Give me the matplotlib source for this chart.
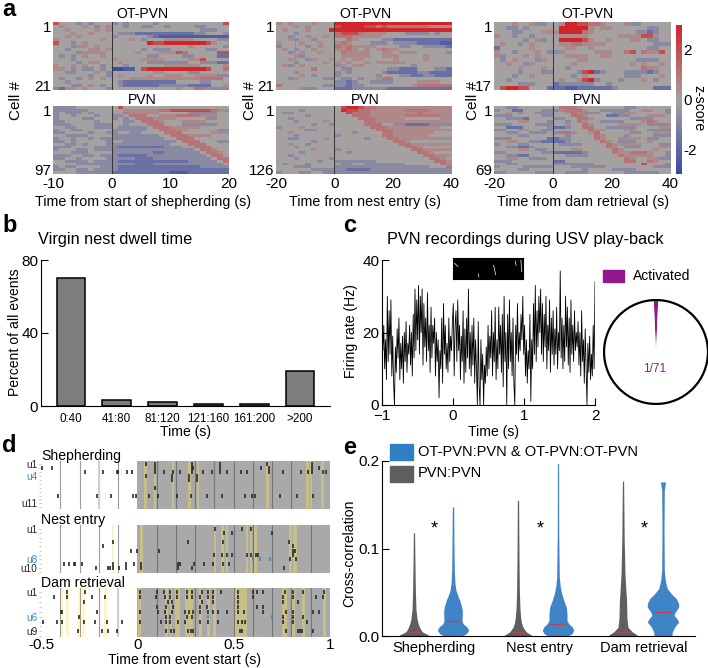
import numpy as np
import matplotlib
matplotlib.use("Agg")
import matplotlib.pyplot as plt
from matplotlib.colors import LinearSegmentedColormap
from matplotlib.patches import Rectangle

plt.rcParams['font.family'] = ['Liberation Sans', 'DejaVu Sans']

W, H = 708, 668

# ---- panel a: z-score maps, one digit per cell (see DIGIT_Z)
DIGIT_Z = [-3, -2.4, -1.7, -0.8, 0, 0.6, 1.1, 2, 3]
OT_SHEPHERD = [
"744434344434344443444444444447","454445434544344334434444334444","445444454544444444444444433344",
"444544544443332222222222334443","445454444434444432111111111111","544444445444454344455555444433",
"744345444444444487788888887544","444355454444444444444445444443","443444554544444343334444443344",
"444435555444445444555764444477","434345445444444433444433444422","444344444454444555544445574444",
"444434554445444433333334433322","544545443444344444455555544445","554343343400114788888888887446",
"443344454344444445544443344444","444444344345444454455544555533","434434545444455555555555566664",
"443444444443222222222444433444","444334543443222222333332222445","325545444344444444444544665333"]
OT_NEST = [
"545444544488888888888888888888","444545444478888776766666665555","454445444888888888888888888888",
"444344444467776555544433334344","443445445466655555444444444444","445344344444654444332222222222",
"544454454456544433343333222211","344443454465655554444334433332","454344544455654545655444444444",
"443454454446555544554555444443","444534444445555544555444454444","445443544545455444445444454444",
"444344445454544545555544444444","453454444435455444444443444444","444444644443344444433222444332",
"444344444434344444322222332222","444454344434444443444332233222","443544443343343445664444444444",
"444444444433234433334444555544","644444443333233444444445666666","444453344422233333322222222222"]
OT_DAM = [
"444544533445887766544453344444","443343444448888854554444443344","444334445558888654444444332344",
"544344344445555544444555577544","444443453448888754454445543344","454434544445566555544444444333",
"244444544444554454444444443344","544344454335444445554467465574","534445454444555544554444444444",
"434544435444445544444444333344","445443544444454444444445454454","444454445444344444444444465544",
"444434443344443782344433332344","444344544444434544444433344454","443444444445445783444344454344",
"444433344423333334434444444444","478877444222112222223444444222"]
PVN_SHEPHERD = [
"333344444447444444444444444444","333333444444555555667777777655","343334344444655555444443333344",
"344344434433466644555666655544","344443344434346665555444443344","334444434444334666544455554444",
"333444433344344466644433333344","443344433343333346665555544444","344334444433333344666554444433",
"334444344334433444466644444555","443333444433333333446665555444","344344343333333333344666444444",
"334344444344333333333466644433","443343444333333333334446664444","333444433332222222233344666444",
"344433433333333333333333466544","444333444433333332233333346654","333443343332222233333333334664",
"334434444333332223333333333466","443333433332222222222223333346","444433333333332223333333333334",
"343344443332222222222222233333","334433433332222222222222222222","444433333322222222221112222222"]
PVN_NEST = [
"444444444447887665555555555555","444434444448776655555566665555","433444444444766655555555655555",
"444443444444466655555566666655","443444444444446665555544444455","444344445444444665555555555555",
"444444344344444666443322223333","344454444444444466655555555544","444443344444444446665555555555",
"445444444444434444665555555444","444344444434444444665555554444","443344445444444344466555555555",
"444444344444444444446654444444","445443444444444444444665555555","444344444444444444444466544444",
"444444544434444444444446655555","444434444444344444444444665444","443444444444444444444444466555",
"444344444344444444444444446654","444444434433333334444444444665","434443444443344333333344444465",
"444333444433333333333333334446","444444333333222233333333333333","344433443333333333333333333333"]
PVN_DAM = [
"443344444446665444444433444444","344224443335666544333334455443","445434433344565333443355444443",
"333444443344466544422334445554","443332444433446654444443333444","444455444344346544333344456544",
"333444433344544654444555543333","442224444322344664433333444455","334455443344444465544455443333",
"443344333436654456444443344555","444433444444344446544434444333","333444444223344446544555543344",
"445544332222344444654333445444","344433444443333444465555544433","443322344444444444465433344455",
"444455433444455444446544444544","334444443322222344446556665443","443322444444333344444655555443",
"445544333444444444444465445533","333444444422444444444466446544","443344444433333334444444474443",
"344443333344433333344444444333","444433444444444344443333444444","334444433344333344444433333344"]
CBAR_TICKS = [2, 0, -2]

# ---- panel b
BIN_LABELS = ["0:40", "41:80", "81:120", "121:160", "161:200", ">200"]
BIN_PERCENT = [69.9, 3.1, 2.2, 0.9, 0.9, 19.4]

# ---- panel c
FIRING_RATE = [
24,15,22,10,18,7,30,12,26,14,29,8,19,6,0,16,9,21,13,24,
7,17,10,19,6,20,12,23,9,17,14,22,11,20,8,25,13,32,15,29,
18,33,14,30,20,32,11,28,16,24,12,31,15,22,9,27,13,22,17,24,
8,20,12,18,2,15,10,24,6,28,14,22,10,17,9,24,12,19,15,23,
28,8,22,26,12,29,15,22,7,19,12,26,6,21,9,24,13,32,10,20,
8,22,11,24,6,18,10,0,23,5,0,18,7,14,0,11,6,16,8,22,
10,19,13,26,8,20,12,27,7,18,10,27,14,22,9,25,5,30,12,20,
0,25,10,29,12,20,8,24,6,0,22,14,28,12,20,15,25,18,30,14,
22,8,18,6,15,10,25,1,18,10,28,14,33,12,26,16,30,20,32,14,
28,12,25,16,30,10,22,15,29,9,24,14,26,11,21,14,27,10,20,15,
37,13,24,10,22,12,30,16,27,11,24,9,29,14,22,12,26,15,20,16,
23,11,20,8,26,12,18,6,21,10,0,17,9,19,7,14,8,22,10,34]
ACTIVATED = [1, 70]

# ---- panel d: spike times (s) by unit row
SPIKES_SHEPHERD = {
1:[.043,.092,.282,.429,.671,.905],
2:[-.497,-.445,.092,.282,.287,.429,.640,.685,.905,.945],
3:[-.272,-.180,-.107,-.102,-.052,-.026,.092,.138,.187,.221,.282,.343,.386,.429,.464,.536,.567,.685,.754,.848,.888,.905,.962,.979],
4:[.045,.180,.270,.311],
5:[.180,.270,.311],
7:[.092],
9:[-.410,-.208,-.137,-.024,-.007,.061,.106,.208,.279,.360,.441,.559,.597,.611,.740,.830,.910]}
SPIKES_NEST = {
1:[.403,.545,.588],
2:[.450,.493,.697],
4:[-.128,.265,.443,.789],
5:[-.180,.810],
6:[-.033,-.003,.114,.810,.818],
7:[.400,.441,.464,.490,.571,.588,.616,.628,.810],
8:[.792,.824],
9:[-.381,-.353,-.329,-.322,-.289,-.128,-.059,-.016,.017,.213,.221,.296,.348,.394,.443,.478],
10:[-.215,-.151,-.142,-.128,-.095,-.059,.017,.209,.285,.763]}
SPIKES_DAM = {
1:[-.363,-.273,.014,.100,.138,.170,.204,.256,.282,.334,.369,.394,.433,.524,.602,.619,.654,.766,.810,.862,.971],
2:[-.431,-.367,-.237,-.168,.014,.097,.144,.170,.204,.260,.282,.325,.369,.394,.524,.602,.758,.810,.927,.965],
3:[-.277,.161,.178,.334,.394,.524,.758,.836],
4:[.104,.149,.183,.325,.360,.524,.623,.654],
5:[-.396,-.389,-.211,.014,.109,.144,.178,.247,.268,.287,.325,.369,.394,.420,.464,.524,.554,.654,.772,.810,.910,.945],
6:[-.303,.147,.170,.256,.282,.754,.810,.862],
7:[-.488,-.419,-.393,-.275,-.220,-.159,-.081,.014,.121,.147,.170,.209,.247,.325,.369,.420,.524,.542,.559,.758,.810,.879],
9:[-.306,-.185,-.151,-.107,.149,.173,.190,.265,.277,.287,.533,.542,.772,.836,.844,.853,.910]}
BLUE_SPIKES_NEST = {8:[.602,.637,.689]}
BLUE_SPIKES_DAM = {6:[.369,.697]}
BURSTS_SHEPHERD = [(.035,.052),(.087,.097),(.178,.190),(.261,.279),(.308,.320),(.668,.682),(.875,.889),(.898,.908),(.953,.967)]
BURSTS_NEST = [(-.133,-.121),(.014,.031),(.400,.408),(.433,.450),(.458,.472),(.562,.576),(.585,.595),(.606,.623),(.789,.801),(.806,.827)]
BURSTS_DAM = [(-.398,-.384),(-.370,-.356),(-.310,-.298),(-.285,-.273),(-.173,-.159),(.005,.019),(.144,.157),(.170,.180),(.196,.221),(.247,.291),(.322,.336),(.363,.377),(.394,.408),(.507,.567),(.749,.775),(.804,.818),(.853,.870),(.962,.978)]

# ---- panel e: violin outlines (value, half-width)
EVENTS = ["Shepherding", "Nest entry", "Dam retrieval"]
GREY_Y = [[0,.002,.005,.01,.015,.02,.03,.05,.08,.118],
          [0,.002,.005,.01,.015,.02,.03,.05,.09,.155],
          [0,.002,.005,.01,.02,.04,.05,.07,.11,.177]]
GREY_W = [[.16,.13,.08,.055,.04,.03,.02,.014,.01,.006],
          [.15,.12,.08,.05,.035,.028,.02,.014,.01,.006],
          [.15,.13,.09,.05,.04,.036,.03,.02,.012,.006]]
BLUE_Y = [[0,.0027,.0065,.0103,.0141,.0179,.0236,.0293,.0350,.0408,.0465,.0522,.0598,.0750,.1017,.1474],
          [0,.0027,.0065,.0103,.0141,.0179,.0255,.0331,.0408,.0484,.056,.0674,.1208,.197],
          [0,.0046,.0103,.016,.0198,.0236,.0274,.0331,.037,.0427,.0484,.0541,.0636,.075,.1208,.1665,.1741,.176]]
BLUE_W = [[.093,.133,.157,.14,.10,.09,.093,.093,.083,.067,.047,.03,.02,.013,.01,.007],
          [.10,.14,.157,.143,.107,.09,.09,.083,.057,.037,.023,.013,.007,.006],
          [.09,.093,.117,.157,.14,.11,.123,.157,.157,.133,.083,.043,.023,.013,.01,.013,.023,.027]]
MED_GREY = [.005, .005, .005]
MED_BLUE = [.017, .014, .028]

CMAP = LinearSegmentedColormap.from_list("z", ["#3c4ba5", "#a6a2a2", "#d2252a"])

fig = plt.figure(figsize=(W/100, H/100), dpi=100)

def axpx(x0, y0, x1, y1):
    return fig.add_axes([x0/W, 1-y1/H, (x1-x0)/W, (y1-y0)/H])

def T(x, y, s, size=10, ha='center', va='center', **kw):
    return fig.text(x/W, 1-y/H, s, fontsize=size, ha=ha, va=va, **kw)

def grid(rows):
    n = max(len(r) for r in rows)
    return np.array([[DIGIT_Z[int(c)] for c in r.ljust(n, r[-1])] for r in rows])

FS = 10.1
TK = 11

def heat(box, rows, xr, ylabels, xticks=None):
    ax = axpx(*box)
    n = len(rows)
    ax.imshow(grid(rows), cmap=CMAP, vmin=-3, vmax=3, aspect='auto', interpolation='nearest',
              extent=(xr[0], xr[1], n, 0))
    ax.axvline(0, color='#333333', lw=0.7)
    for s in ax.spines.values():
        s.set_visible(False)
    ax.set_yticks([n*0.07, n*0.93], ylabels, fontsize=TK)
    ax.tick_params(axis='y', length=0, pad=1.5)
    if xticks:
        ax.set_xticks(xticks, [str(v) for v in xticks], fontsize=TK)
        ax.tick_params(axis='x', length=0, pad=2)
    else:
        ax.set_xticks([])
    return ax

heat((53, 22, 229, 90), OT_SHEPHERD, (-10, 20), ["1", "21"])
heat((53, 106, 229, 174), PVN_SHEPHERD, (-10, 20), ["1", "97"], [-10, 0, 10, 20])
a2 = heat((276, 22, 451, 90), OT_NEST, (-20, 40), ["1", "21"])
a2.plot([-13.5, -13.5], [4, 13.5], color='#6a9bc8', lw=0.6)
heat((276, 106, 451, 174), PVN_NEST, (-20, 40), ["1", "126"], [-20, 0, 20, 40])
heat((494, 22, 670, 90), OT_DAM, (-20, 40), ["1", "17"])
heat((494, 106, 670, 174), PVN_DAM, (-20, 40), ["1", "69"], [-20, 0, 20, 40])

for cx, a in [(143, "Time from start of shepherding (s)"), (365, "Time from nest entry (s)"), (583, "Time from dam retrieval (s)")]:
    T(cx, 202, a, FS + 0.2)
for cx in (142, 365, 587):
    T(cx, 14, "OT-PVN", FS)
    T(cx, 100, "PVN", FS)
for cx in (16, 250, 473):
    T(cx, 100, "Cell #", TK, rotation=90)

cax = axpx(676, 25, 682, 174)
cax.imshow(np.linspace(3, -3, 128)[:, None], cmap=CMAP, vmin=-3, vmax=3, aspect='auto', extent=(0, 1, -3, 3))
cax.set_xticks([])
cax.yaxis.tick_right()
cax.set_yticks(CBAR_TICKS, [str(v) for v in CBAR_TICKS], fontsize=TK)
cax.tick_params(axis='y', length=0, pad=1)
for s in cax.spines.values():
    s.set_visible(False)
T(698, 108, "z-score", FS, rotation=270)

for x, y, s in [(2, 10, "a"), (2, 226, "b"), (343, 226, "c"), (2, 445, "d"), (343, 447, "e")]:
    T(x, y, s, 17, ha='left', fontweight='bold')

# panel b
bx = axpx(41, 260, 330, 406)
bx.bar(range(6), BIN_PERCENT, width=0.63, color='#7d7d7d', edgecolor='black', lw=1.1)
bx.set_xlim(-0.655, 5.655)
bx.set_ylim(0, 80)
bx.set_yticks([0, 40, 80])
bx.set_xticks(range(6), BIN_LABELS, fontsize=8.4)
bx.tick_params(axis='x', length=0, pad=5)
bx.tick_params(axis='y', direction='in', length=5, labelsize=TK, pad=2)
for s in ('top', 'right'):
    bx.spines[s].set_visible(False)
T(115, 240, "Virgin nest dwell time", 11.7)
T(15, 332, "Percent of all events", FS, rotation=90)
T(185, 432, "Time (s)", FS)

# panel c
cx = axpx(382, 260, 595, 405)
cx.plot(np.linspace(-1, 2, len(FIRING_RATE)), FIRING_RATE, color='black', lw=0.6)
cx.set_xlim(-1, 2)
cx.set_ylim(0, 40)
cx.set_xticks([-1, 0, 1, 2])
cx.set_yticks([0, 20, 40])
cx.tick_params(direction='in', length=5, labelsize=TK, pad=2)
cx.tick_params(axis='x', pad=3)
for s in ('top', 'right'):
    cx.spines[s].set_visible(False)
T(525, 240, "PVN recordings during USV play-back", 11.7)
T(351, 331, "Firing rate (Hz)", FS, rotation=90)
T(493, 432, "Time (s)", FS)

sx = axpx(453, 258, 523, 279)
sx.set_facecolor('black')
SYLL_X = [(.02, .07), (.36, .37), (.58, .61), (.89, .90), (.97, .98)]
SYLL_Y = [(.75, .6), (.25, .1), (.65, .2), (.85, .65), (.9, .35)]
for a, b in zip(SYLL_X, SYLL_Y):
    sx.plot(a, b, color='white', lw=0.5)
sx.set_xlim(0, 1)
sx.set_ylim(0, 1)
sx.set_xticks([])
sx.set_yticks([])

pax = axpx(603, 299, 709, 405)
pax.pie(ACTIVATED, startangle=90 - 180 * ACTIVATED[0] / sum(ACTIVATED), counterclock=True,
        colors=['#93188f', 'white'], radius=1.0, wedgeprops={'lw': 0})
pax.add_patch(plt.Circle((0, 0), 1.0, fill=False, ec='black', lw=1.6))
pax.set_xlim(-1.02, 1.02)
pax.set_ylim(-1.02, 1.02)
fig.patches.append(Rectangle((603/W, 1-282/H), 21/W, 12/H, transform=fig.transFigure, color='#93188f'))
T(633, 276, "Activated", 10, ha='left')
T(655, 369, "1/71", 8.6, color='#93188f')

# panel d
def raster(box, spikes, bursts, ylim, labels, blue=None, pale=None):
    ax = axpx(*box)
    ax.axvspan(0, 1, color='#a9a9a9', lw=0, zorder=0)
    for t in (-.4, -.3, -.2, -.1):
        ax.axvline(t, color='#9a9a9a', lw=0.8, zorder=1)
    for t in (.1, .2, .3, .4, .5, .6, .7, .8, .9):
        ax.axvline(t, color='#757575', lw=0.8, zorder=1)
    if pale is not None:
        ax.axvspan(pale - .006, pale + .006, color='#cfcfcf', lw=0, zorder=1.5)
    for a, b in bursts:
        ax.axvspan(a, b, color='#fdf5c4' if b < 0 else '#c6bf88', lw=0, zorder=2)
    for r, ts in spikes.items():
        ax.plot(ts, [r]*len(ts), ls='', marker='|', ms=2.3, mew=1.2, color='#2a2a2a', zorder=3)
    if blue:
        for r, ts in blue.items():
            ax.plot(ts, [r]*len(ts), ls='', marker='|', ms=2.3, mew=1.2, color='#3a87c8', zorder=3)
    ax.set_xlim(-.5, 1)
    ax.set_ylim(*ylim)
    ticks = list(labels)
    ax.set_yticks(ticks, [labels[k][0] for k in ticks], fontsize=7.2)
    for lab, k in zip(ax.get_yticklabels(), ticks):
        lab.set_color(labels[k][1])
    ax.set_yticks(range(1, int(ylim[0]) + 1), minor=True)
    ax.tick_params(axis='y', which='both', length=1.5, color='#aaaaaa', pad=1, width=0.5)
    ax.set_xticks([])
    for s in ax.spines.values():
        s.set_visible(False)
    return ax

K, B = '#222222', '#3a87c8'
raster((41, 461, 330, 509), SPIKES_SHEPHERD, BURSTS_SHEPHERD, (12.45, .15), {1: ("u1", K), 4: ("u4", B), 11: ("u11", K)}, pale=-.2)
raster((41, 525, 330, 573), SPIKES_NEST, BURSTS_NEST, (11.16, .06), {1: ("u1", K), 8: ("u8", B), 10: ("u10", K)}, blue=BLUE_SPIKES_NEST)
ad = raster((41, 588, 330, 637), SPIKES_DAM, BURSTS_DAM, (10.17, .1), {1: ("u1", K), 6: ("u6", B), 9: ("u9", K)}, blue=BLUE_SPIKES_DAM, pale=-.1)
ad.set_xticks([-.5, 0, .5, 1], ["-0.5", "0", "0.5", "1"], fontsize=TK)
ad.tick_params(axis='x', length=0, pad=1)
T(41, 456, "Shepherding", FS, ha='left')
T(41, 520, "Nest entry", FS, ha='left')
T(41, 583, "Dam retrieval", FS, ha='left')
T(185, 660, "Time from event start (s)", FS)

# panel e
ex = axpx(382, 461, 695, 636)
GREY_X = [.32, 1.36, 2.41]
BLUE_X = [.71, 1.76, 2.81]
for i in range(3):
    y, w = np.array(GREY_Y[i]), np.array(GREY_W[i])
    ex.fill_betweenx(y, GREY_X[i]-w, GREY_X[i]+w, color='#5f5f5f', lw=0)
    ex.plot([GREY_X[i]-.05, GREY_X[i]+.05], [MED_GREY[i]]*2, color='#c8404a', lw=1)
    y, w = np.array(BLUE_Y[i]), np.array(BLUE_W[i])
    ex.fill_betweenx(y, BLUE_X[i]-w, BLUE_X[i]+w, color='#3f84c6', lw=0)
    ex.plot([BLUE_X[i]-.07, BLUE_X[i]+.07], [MED_BLUE[i]]*2, color='#c8404a', lw=1)
ex.set_xlim(0, 3.13)
ex.set_ylim(0, .2)
ex.set_yticks([0, .1, .2], ["0.0", "0.1", "0.2"])
ex.set_xticks([])
ex.tick_params(axis='y', direction='in', length=5, labelsize=TK, pad=2)
for s in ('top', 'right'):
    ex.spines[s].set_visible(False)
for xs in (.52, 1.58, 2.62):
    ex.text(xs, .122, "*", fontsize=TK + 2, ha='center', va='center')
for xs, s in zip((434, 539, 644), EVENTS):
    T(xs, 648, s, 10.5)
T(349, 553, "Cross-correlation", FS, rotation=90)
fig.patches.append(Rectangle((390/W, 1-460/H), 23/W, 16/H, transform=fig.transFigure, color='#2f7fc4', zorder=5))
fig.patches.append(Rectangle((390/W, 1-482/H), 23/W, 16/H, transform=fig.transFigure, color='#5f5f5f', zorder=5))
T(418, 452, "OT-PVN:PVN & OT-PVN:OT-PVN", 10.5, ha='left')
T(418, 473, "PVN:PVN", 10.5, ha='left')

fig.savefig("out.png", dpi=100)
